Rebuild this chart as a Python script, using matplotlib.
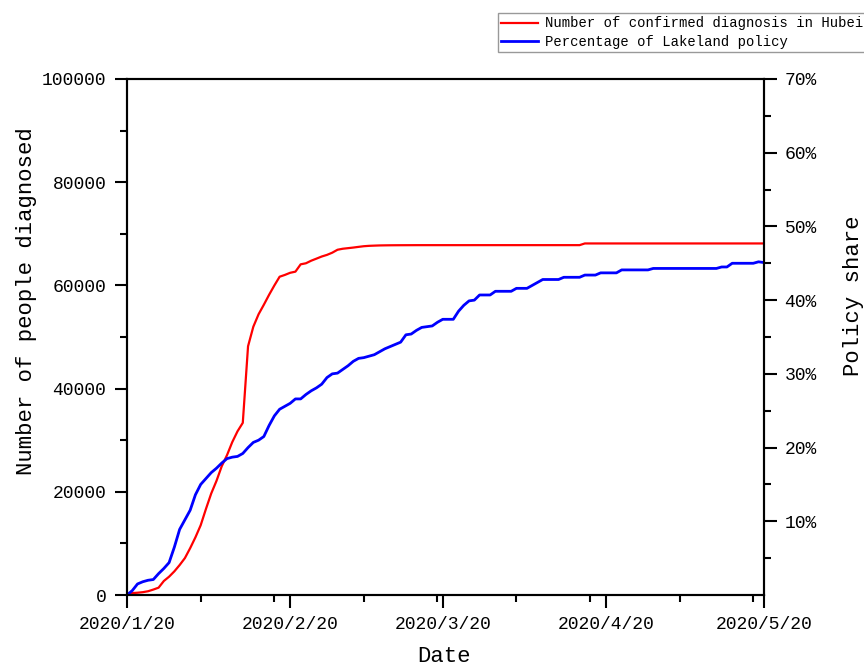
import matplotlib
matplotlib.use('Agg')
import matplotlib.pyplot as plt
import matplotlib.dates as mdates
from matplotlib.ticker import FixedLocator, FuncFormatter
import pandas as pd

# cumulative confirmed cases in Hubei, one value per day from 2020/1/20
hubei_confirmed = [
    270, 375, 444, 549, 729, 1052, 1423, 2714, 3554, 4586,
    5806, 7153, 9074, 11177, 13522, 16678, 19665, 22112, 24953, 27100,
    29631, 31728, 33366, 48206, 51986, 54406, 56249, 58182, 59989, 61682,
    62031, 62442, 62662, 64084, 64287, 64786, 65187, 65596, 65914, 66337,
    66907, 67103, 67217, 67332, 67466, 67592, 67666, 67707, 67743, 67760,
    67773, 67781, 67786, 67790, 67794, 67798, 67799, 67800, 67800, 67800,
    67800, 67800, 67800, 67800, 67800, 67800, 67801, 67801, 67801, 67801,
    67801, 67801, 67801, 67801, 67801, 67801, 67801, 67801, 67801, 67801,
    67801, 67801, 67801, 67801, 67801, 67801, 67801, 68128, 68128, 68128,
    68128, 68128, 68128, 68128, 68128, 68128, 68128, 68128, 68128, 68128,
    68128, 68128, 68128, 68128, 68128, 68128, 68128, 68128, 68128, 68128,
    68128, 68128, 68128, 68128, 68128, 68128, 68128, 68128, 68128, 68128,
    68128, 68128,
]

# share of Lakeland policy (%), same days
policy_pct = [
    0.0, 0.6, 1.5, 1.8, 2.0, 2.1, 2.9, 3.6, 4.4, 6.5,
    8.9, 10.2, 11.5, 13.6, 15.0, 15.8, 16.6, 17.2, 17.9, 18.5,
    18.7, 18.8, 19.2, 20.0, 20.7, 21.0, 21.5, 23.0, 24.3, 25.2,
    25.6, 26.0, 26.6, 26.6, 27.2, 27.7, 28.1, 28.6, 29.5, 30.0,
    30.1, 30.6, 31.1, 31.7, 32.1, 32.2, 32.4, 32.6, 33.0, 33.4,
    33.7, 34.0, 34.3, 35.3, 35.4, 35.9, 36.3, 36.4, 36.5, 37.0,
    37.4, 37.4, 37.4, 38.5, 39.3, 39.9, 40.0, 40.7, 40.7, 40.7,
    41.2, 41.2, 41.2, 41.2, 41.6, 41.6, 41.6, 42.0, 42.4, 42.8,
    42.8, 42.8, 42.8, 43.1, 43.1, 43.1, 43.1, 43.4, 43.4, 43.4,
    43.7, 43.7, 43.7, 43.7, 44.1, 44.1, 44.1, 44.1, 44.1, 44.1,
    44.3, 44.3, 44.3, 44.3, 44.3, 44.3, 44.3, 44.3, 44.3, 44.3,
    44.3, 44.3, 44.3, 44.5, 44.5, 45.0, 45.0, 45.0, 45.0, 45.0,
    45.2, 45.1,
]

dates = pd.date_range('2020-01-20', periods=len(hubei_confirmed))
major_dates = ['2020-01-20', '2020-02-20', '2020-03-20', '2020-04-20', '2020-05-20']
minor_dates = ['2020-02-03', '2020-02-17', '2020-03-05', '2020-03-19',
               '2020-04-03', '2020-04-17', '2020-05-04', '2020-05-18']
left_ticks = [0, 20000, 40000, 60000, 80000, 100000]
right_ticks = [10, 20, 30, 40, 50, 60, 70]

label_red = 'Number of confirmed diagnosis in Hubei'
label_blue = 'Percentage of Lakeland policy'

plt.rcParams['font.family'] = ['Liberation Mono', 'DejaVu Sans Mono']

fig = plt.figure(figsize=(8.64, 6.66), dpi=100)
ax = fig.add_axes([0.147, 0.1066, 0.737, 0.7748])
ax2 = ax.twinx()

red_line, = ax.plot(dates, hubei_confirmed, color='#ff0000', lw=1.6)
blue_line, = ax2.plot(dates, policy_pct, color='#0000ff', lw=2.0)

ax.set_xlim(pd.Timestamp(major_dates[0]), pd.Timestamp(major_dates[-1]))
ax.set_ylim(0, 100000)
ax2.set_ylim(0, 70)

ax.xaxis.set_major_locator(FixedLocator(mdates.date2num(pd.to_datetime(major_dates))))
ax.xaxis.set_minor_locator(FixedLocator(mdates.date2num(pd.to_datetime(minor_dates))))
ax.xaxis.set_major_formatter(FuncFormatter(
    lambda v, pos: '{0.year}/{0.month}/{0.day}'.format(mdates.num2date(v))))

ax.set_yticks(left_ticks)
ax.set_yticks([t + 10000 for t in left_ticks[:-1]], minor=True)
ax2.set_yticks(right_ticks)
ax2.set_yticks([t - 5 for t in right_ticks], minor=True)
ax2.yaxis.set_major_formatter(FuncFormatter(lambda v, pos: f'{v:.0f}%'))

for a in (ax, ax2):
    a.tick_params(which='major', direction='out', length=9, width=1.5,
                  labelsize=13, pad=6, colors='black')
    a.tick_params(which='minor', direction='out', length=5, width=1.5)
    for s in a.spines.values():
        s.set_linewidth(1.5)

ax.set_xlabel('Date', fontsize=16)
ax.xaxis.set_label_coords(0.498, -0.098)
ax.set_ylabel('Number of people diagnosed', fontsize=16)
ax.yaxis.set_label_coords(-0.141, 0.57)
ax2.set_ylabel('Policy share', fontsize=16)
ax2.yaxis.set_label_coords(1.124, 0.58)

fig.legend([red_line, blue_line], [label_red, label_blue],
           loc='upper left', bbox_to_anchor=(498 / 864, 1 - 13 / 666),
           fontsize=10, frameon=True, fancybox=False, edgecolor='#808080',
           handlelength=2.6, handletextpad=0.5, borderpad=0.25,
           labelspacing=0.3, borderaxespad=0)

fig.savefig('out.png', dpi=100)
